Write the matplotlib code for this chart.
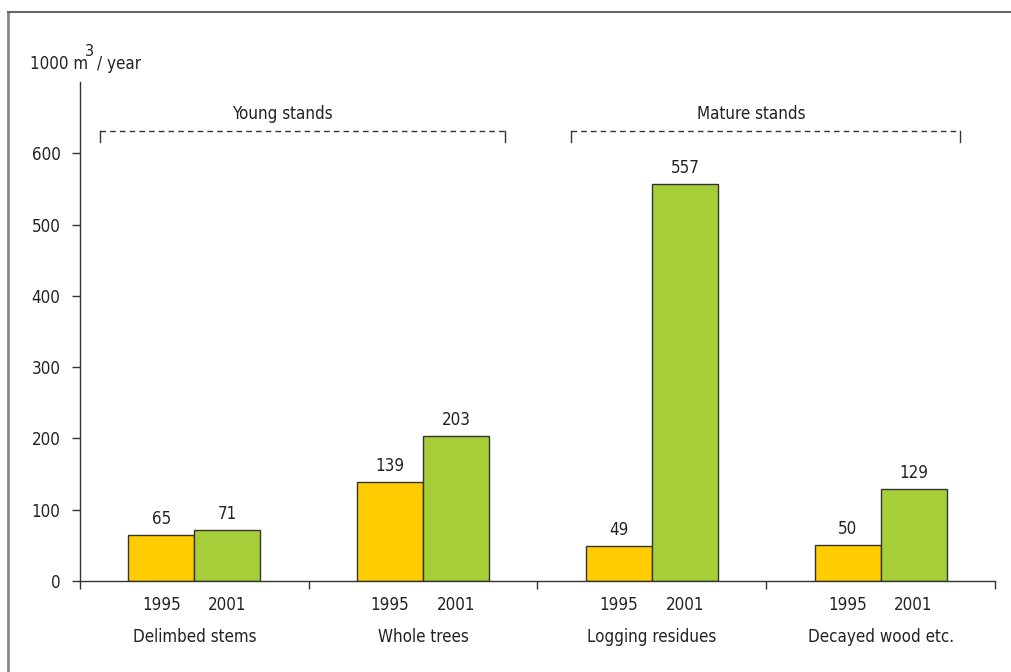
import matplotlib
matplotlib.use("Agg")
import matplotlib.pyplot as plt
from matplotlib.lines import Line2D
import matplotlib.transforms as mtransforms

plt.rcParams['font.family'] = ['DejaVu Sans']
plt.rcParams['font.stretch'] = 'condensed'

categories = ["Delimbed stems", "Whole trees", "Logging residues", "Decayed wood etc."]
years = ["1995", "2001"]
values_1995 = [65, 139, 49, 50]
values_2001 = [71, 203, 557, 129]
groups = ["Young stands", "Mature stands"]
yticks = [0, 100, 200, 300, 400, 500, 600]

c1995 = "#FFCC00"
c2001 = "#A6CE39"
edge = "#333333"
txt = "#222222"
FS = 12.2

W, H = 1011, 672
fig = plt.figure(figsize=(W / 100, H / 100), dpi=100)
ax = fig.add_axes([0.0791, 0.1354, 0.9051, 0.7426])

w = 0.288
centers = [i + 0.5 for i in range(len(categories))]
x1 = [c - w / 2 for c in centers]
x2 = [c + w / 2 for c in centers]
ax.bar(x1, values_1995, width=w, color=c1995, edgecolor=edge, linewidth=1.0)
ax.bar(x2, values_2001, width=w, color=c2001, edgecolor=edge, linewidth=1.0)

for xs, vals in ((x1, values_1995), (x2, values_2001)):
    for x, v in zip(xs, vals):
        ax.annotate(str(v), (x, v), xytext=(0, 5), textcoords="offset points",
                    ha="center", va="bottom", fontsize=FS, color=txt)

ax.set_xlim(0, len(categories))
ax.set_ylim(0, 700)
ax.set_yticks(yticks)
ax.set_yticklabels([str(t) for t in yticks], fontsize=FS, color=txt)
ax.set_xticks(range(len(categories) + 1))
ax.set_xticklabels([])
ax.tick_params(axis="both", direction="out", length=6, width=1, color=edge, pad=8)
for s in ("top", "right"):
    ax.spines[s].set_visible(False)
for s in ("left", "bottom"):
    ax.spines[s].set_color(edge)
    ax.spines[s].set_linewidth(1)

trans = mtransforms.blended_transform_factory(ax.transData, ax.transAxes)
for i, c in enumerate(centers):
    ax.text(x1[i], -0.03, years[0], transform=trans, ha="center", va="top", fontsize=FS, color=txt)
    ax.text(x2[i], -0.03, years[1], transform=trans, ha="center", va="top", fontsize=FS, color=txt)
    ax.text(c, -0.095, categories[i], transform=trans, ha="center", va="top", fontsize=FS, color=txt)

# group brackets
brackets = [(0.087, 1.86), (2.148, 3.847)]
label_x = [0.886, 2.934]
for (a, b), lx, g in zip(brackets, label_x, groups):
    ax.plot([a, b], [631, 631], color=edge, linestyle=(0, (4, 3)), linewidth=1, clip_on=False)
    ax.plot([a, a], [631, 616], color=edge, linewidth=1, clip_on=False)
    ax.plot([b, b], [631, 616], color=edge, linewidth=1, clip_on=False)
    ax.text(lx, 643, g, ha="center", va="bottom", fontsize=FS, color=txt)

# unit label with raised superscript
fig.text(30 / W, 1 - 69 / H, "1000 m", ha="left", va="baseline", fontsize=FS, color=txt)
fig.text(85 / W, 1 - 56 / H, "3", ha="left", va="baseline", fontsize=FS * 0.95, color=txt)
fig.text(97 / W, 1 - 69 / H, "/ year", ha="left", va="baseline", fontsize=FS, color=txt)

# figure border (top and left)
fig.add_artist(Line2D([7.5 / W, 7.5 / W], [0, 1 - 11.5 / H], transform=fig.transFigure, color="#888888", linewidth=2))
fig.add_artist(Line2D([7.5 / W, 1], [1 - 11.5 / H, 1 - 11.5 / H], transform=fig.transFigure, color="#666666", linewidth=1.5))

fig.savefig("out.png", dpi=100)
